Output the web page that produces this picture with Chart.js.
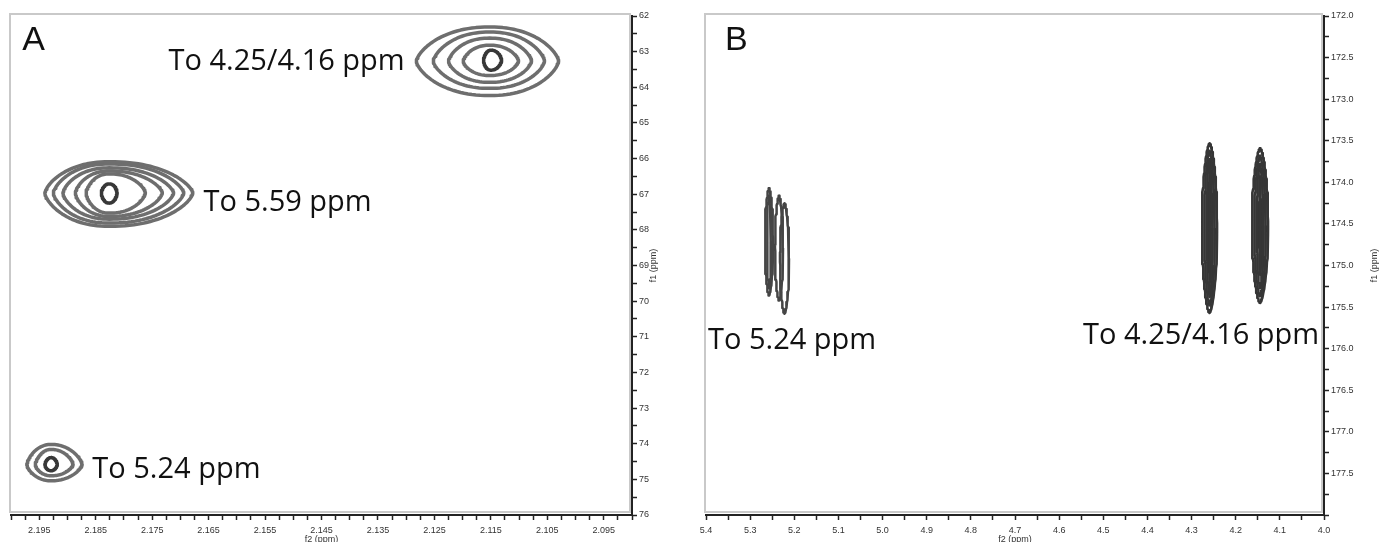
<!DOCTYPE html>
<html>
<head>
<meta charset="utf-8">
<script src="https://cdn.jsdelivr.net/npm/chart.js@4.4.1/dist/chart.umd.min.js"></script>
<style>
  html, body {
    margin: 0;
    padding: 0;
    width: 1382px;
    height: 542px;
    overflow: hidden;
    background: #fff;
  }
  .panel { position: absolute; top: 0; height: 542px; }
  #boxA { left: 0; width: 690px; }
  #boxB { left: 690px; width: 692px; }
</style>
</head>
<body>
<div class="panel" id="boxA"><canvas id="chartA"></canvas></div>
<div class="panel" id="boxB"><canvas id="chartB"></canvas></div>

<script>
  // ---- panel A : axis ranges and tick labels (ppm) ----
  const aXRange = [2.09, 2.2];
  const aYRange = [62, 76];
  const aXLabels = ['2.195', '2.185', '2.175', '2.165', '2.155', '2.145', '2.135', '2.125', '2.115', '2.105', '2.095'];
  const aYLabels = ['62', '63', '64', '65', '66', '67', '68', '69', '70', '71', '72', '73', '74', '75', '76'];

  // contour rings: [centre f2, centre f1, f2 side 1, f2 side 2, f1 top, f1 bottom]
  const aPeak1 = [
    [2.1152, 63.27, 2.1282, 2.1030, 62.31, 64.23],
    [2.1152, 63.27, 2.1252, 2.1055, 62.45, 64.03],
    [2.1152, 63.27, 2.1225, 2.1078, 62.62, 63.86],
    [2.1152, 63.27, 2.1199, 2.1101, 62.82, 63.67],
    [2.1150, 63.25, 2.1163, 2.1131, 62.96, 63.52]
  ];
  const aPeak2 = [
    [2.1826, 66.97, 2.1940, 2.1678, 66.09, 67.90],
    [2.1826, 66.97, 2.1925, 2.1694, 66.15, 67.81],
    [2.1826, 66.97, 2.1908, 2.1712, 66.26, 67.70],
    [2.1826, 66.97, 2.1886, 2.1732, 66.35, 67.62],
    [2.1826, 66.97, 2.1867, 2.1762, 66.43, 67.53],
    [2.1826, 66.97, 2.1840, 2.1812, 66.71, 67.25]
  ];
  const aPeak3 = [
    [2.1929, 74.59, 2.1972, 2.1874, 74.02, 75.04],
    [2.1929, 74.59, 2.1957, 2.1890, 74.16, 74.90],
    [2.1929, 74.59, 2.1940, 2.1918, 74.39, 74.76]
  ];
  const aTexts = [
    ['To 4.25/4.16 ppm', 2.1721, 63.52],
    ['To 5.59 ppm', 2.1659, 67.48],
    ['To 5.24 ppm', 2.1856, 74.955]
  ];

  // ---- panel B ----
  const bXRange = [4.0, 5.4];
  const bYRange = [172, 178];
  const bXLabels = ['5.4', '5.3', '5.2', '5.1', '5.0', '4.9', '4.8', '4.7', '4.6', '4.5', '4.4', '4.3', '4.2', '4.1', '4.0'];
  const bYLabels = ['172.0', '172.5', '173.0', '173.5', '174.0', '174.5', '175.0', '175.5', '176.0', '176.5', '177.0', '177.5'];

  const bPeakLeft = [
    [5.2573, 174.71, 5.2663, 5.2482, 174.07, 175.36],
    [5.2573, 174.71, 5.2618, 5.2528, 174.16, 175.27],
    [5.2347, 174.79, 5.2437, 5.2256, 174.16, 175.42],
    [5.2222, 174.92, 5.2324, 5.2120, 174.25, 175.58]
  ];
  const bPeakRight1 = [
    [4.2593, 174.55, 4.2763, 4.2423, 173.53, 175.57],
    [4.2593, 174.55, 4.2711, 4.2475, 173.62, 175.48],
    [4.2593, 174.55, 4.2660, 4.2526, 173.72, 175.38],
    [4.2593, 174.55, 4.2614, 4.2572, 173.86, 175.24]
  ];
  const bPeakRight2 = [
    [4.1449, 174.52, 4.1630, 4.1268, 173.59, 175.45],
    [4.1449, 174.52, 4.1578, 4.1320, 173.68, 175.37],
    [4.1449, 174.52, 4.1527, 4.1371, 173.78, 175.27],
    [4.1449, 174.52, 4.1476, 4.1422, 173.93, 175.11]
  ];
  const bTexts = [
    ['To 5.24 ppm', 5.3955, 176.0],
    ['To 4.25/4.16 ppm', 4.5459, 175.94]
  ];

  // ring outline through the scales; ex/ey shape the tips
  function ringPoints(r, ex, ey) {
    const [cx, cy, xa, xb, ya, yb] = r;
    const pts = [];
    const n = 120;
    for (let i = 0; i < n; i++) {
      const t = i / n * 2 * Math.PI;
      const c = Math.cos(t), s = Math.sin(t);
      const fx = Math.pow(Math.abs(c), ex);
      const fy = Math.pow(Math.abs(s), ey);
      pts.push({
        x: cx + fx * ((c >= 0 ? xb : xa) - cx),
        y: cy + fy * ((s >= 0 ? yb : ya) - cy)
      });
    }
    pts.push(pts[0]);
    pts.push(pts[1]);
    return pts;
  }

  function ringSets(rings, color, width, ex, ey, innerColor) {
    return rings.map((r, i) => ({
      type: 'scatter',
      showLine: true,
      data: ringPoints(r, ex, ey),
      borderColor: (innerColor && i === rings.length - 1) ? innerColor : color,
      borderWidth: width,
      borderJoinStyle: 'round',
      borderCapStyle: 'round',
      pointRadius: 0,
      fill: false,
      tension: 0
    }));
  }

  function stepTicks(min, max, step) {
    const out = [];
    const n = Math.round((max - min) / step);
    for (let i = 0; i <= n; i++) out.push({ value: +(min + i * step).toFixed(6) });
    return out;
  }

  function labelFor(list) {
    return (v) => list.find(l => Math.abs(parseFloat(l) - v) < 1e-6) || '';
  }

  const tickFont = { family: 'Liberation Sans', size: 9 };

  function axis(range, pos, step, labels, fitSize) {
    return {
      type: 'linear',
      position: pos,
      reverse: true,
      min: range[0],
      max: range[1],
      grid: { drawOnChartArea: false, drawTicks: true, tickLength: 5, tickColor: '#222', tickWidth: 1.5 },
      border: { display: true, color: '#222', width: 2 },
      ticks: {
        autoSkip: false, maxRotation: 0, padding: pos === 'bottom' ? 5 : 2,
        color: '#333', font: tickFont, callback: labelFor(labels)
      },
      afterBuildTicks: s => { s.ticks = stepTicks(range[0], range[1], step); },
      afterFit: s => { if (pos === 'bottom') s.height = fitSize; else s.width = fitSize; }
    };
  }

  // frame, panel letter, annotations, axis titles
  function decor(letter, texts, yTitleOffset) {
    return {
      id: 'decor' + letter[0],
      beforeDatasetsDraw(chart) {
        const a = chart.chartArea, ctx = chart.ctx;
        ctx.save();
        ctx.strokeStyle = '#c9c9c9';
        ctx.lineWidth = 2;
        ctx.strokeRect(a.left - 1, a.top - 2, a.right - a.left - 1, a.bottom - a.top - 1);
        ctx.restore();
      },
      afterDatasetsDraw(chart) {
        const ctx = chart.ctx, sx = chart.scales.x, sy = chart.scales.y, a = chart.chartArea;
        ctx.save();
        ctx.fillStyle = '#111';
        ctx.textBaseline = 'alphabetic';
        ctx.textAlign = 'left';
        ctx.font = '34px "Liberation Sans"';
        ctx.fillText(letter[0], sx.getPixelForValue(letter[1]), sy.getPixelForValue(letter[2]));
        ctx.font = '29px "Open Sans"';
        texts.forEach(t => ctx.fillText(t[0], sx.getPixelForValue(t[1]), sy.getPixelForValue(t[2])));
        ctx.fillStyle = '#333';
        ctx.font = '9px "Liberation Sans"';
        ctx.textAlign = 'center';
        ctx.textBaseline = 'middle';
        ctx.fillText('f2 (ppm)', (a.left + a.right) / 2, a.bottom + 25);
        ctx.translate(a.right + yTitleOffset, (a.top + a.bottom) / 2);
        ctx.rotate(-Math.PI / 2);
        ctx.fillText('f1 (ppm)', 0, 0);
        ctx.restore();
      }
    };
  }

  new Chart(document.getElementById('chartA'), {
    type: 'scatter',
    data: {
      datasets: [
        ...ringSets(aPeak1, '#6e6e6e', 3.5, 0.9, 1.35, '#383838'),
        ...ringSets(aPeak2, '#6e6e6e', 3.5, 0.9, 1.35, '#383838'),
        ...ringSets(aPeak3, '#6e6e6e', 3.5, 0.95, 1.4, '#383838')
      ]
    },
    options: {
      responsive: true,
      maintainAspectRatio: false,
      animation: false,
      layout: { padding: { left: 11, top: 16, right: 0, bottom: 0 } },
      plugins: { legend: { display: false }, tooltip: { enabled: false } },
      scales: {
        x: axis(aXRange, 'bottom', 0.0025, aXLabels, 27),
        y: axis(aYRange, 'right', 0.5, aYLabels, 58)
      }
    },
    plugins: [decor(['A', 2.198, 62.96], aTexts, 22)]
  });

  new Chart(document.getElementById('chartB'), {
    type: 'scatter',
    data: {
      datasets: [
        ...ringSets(bPeakLeft, '#454545', 2.5, 1.3, 0.95),
        ...ringSets(bPeakRight1, '#363636', 2.6, 1.3, 0.95),
        ...ringSets(bPeakRight2, '#363636', 2.6, 1.3, 0.95)
      ]
    },
    options: {
      responsive: true,
      maintainAspectRatio: false,
      animation: false,
      layout: { padding: { left: 16, top: 16, right: 0, bottom: 0 } },
      plugins: { legend: { display: false }, tooltip: { enabled: false } },
      scales: {
        x: axis(bXRange, 'bottom', 0.05, bXLabels, 27),
        y: axis(bYRange, 'right', 0.25, bYLabels, 58)
      }
    },
    plugins: [decor(['B', 5.357, 172.41], bTexts, 51)]
  });
</script>
</body>
</html>
